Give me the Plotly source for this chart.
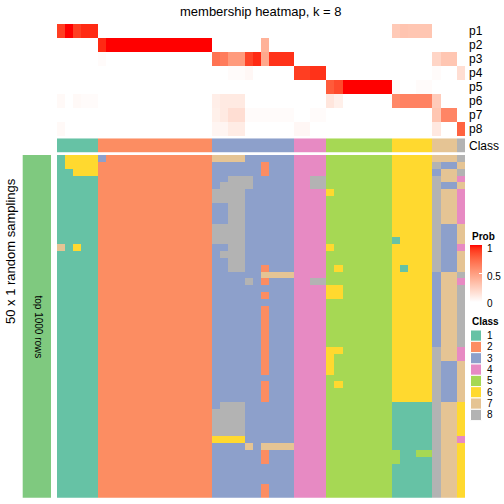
import plotly.graph_objects as go

W = H = 504
FONT = "Liberation Sans, Arial, sans-serif"

title_text = "membership heatmap, k = 8"
row_title = "50 x 1 random samplings"
block_label = "top 1000 rows"
prob_rows = ["p1", "p2", "p3", "p4", "p5", "p6", "p7", "p8"]
prob_ticks = [0, 0.5, 1]
prob_tick_labels = ["0", "0.5", "1"]
class_labels = ["1", "2", "3", "4", "5", "6", "7", "8"]
class_colors = ["#66C2A5", "#FC8D62", "#8DA0CB", "#E78AC3",
                "#A6D854", "#FFD92F", "#E5C494", "#B3B3B3"]

# consensus class of each of the 50 samples
col_class = [1, 1, 1, 1, 1,
             2, 2, 2, 2, 2, 2, 2, 2, 2, 2, 2, 2, 2, 2,
             3, 3, 3, 3, 3, 3, 3, 3, 3, 3,
             4, 4, 4, 4,
             5, 5, 5, 5, 5, 5, 5, 5,
             6, 6, 6, 6, 6,
             7, 7, 7,
             8]

# membership probabilities (columns = samples)
p1 = [0.90, 1.00, 0.90, 0.95, 0.95, 0, 0, 0, 0, 0, 0, 0, 0, 0, 0, 0, 0, 0, 0,
      0, 0, 0, 0, 0, 0, 0, 0, 0, 0, 0, 0, 0, 0, 0, 0, 0, 0, 0, 0, 0, 0,
      0.28, 0.31, 0.30, 0.30, 0.30, 0, 0, 0, 0]
p2 = [0, 0, 0, 0, 0, 0.95, 1, 1, 1, 1, 1, 1, 1, 1, 1, 1, 1, 1, 1,
      0, 0, 0, 0, 0, 0, 0.40, 0, 0, 0, 0, 0, 0, 0, 0, 0, 0, 0, 0, 0, 0, 0,
      0, 0, 0, 0, 0, 0, 0, 0, 0]
p3 = [0, 0, 0, 0, 0, 0.02, 0, 0, 0, 0, 0, 0, 0, 0, 0, 0, 0, 0, 0,
      0.70, 0.66, 0.52, 0.52, 0.88, 0.95, 0.45, 0.93, 0.93, 0.93,
      0, 0, 0, 0, 0, 0, 0, 0, 0, 0, 0, 0,
      0, 0, 0, 0, 0, 0.22, 0.30, 0.30, 0]
p4 = [0, 0, 0, 0, 0, 0, 0, 0, 0, 0, 0, 0, 0, 0, 0, 0, 0, 0, 0,
      0, 0, 0.02, 0.02, 0.04, 0, 0, 0, 0, 0,
      0.90, 0.90, 0.93, 0.93, 0, 0, 0, 0, 0, 0, 0, 0,
      0, 0, 0, 0, 0, 0.02, 0, 0, 0.17]
p5 = [0, 0, 0, 0, 0, 0, 0, 0, 0, 0, 0, 0, 0, 0, 0, 0, 0, 0, 0,
      0, 0, 0, 0, 0, 0, 0, 0, 0, 0,
      0, 0, 0, 0, 0.80, 0.86, 1, 1, 1, 1, 1, 1,
      0.03, 0, 0, 0.02, 0.02, 0, 0, 0, 0]
p6 = [0.03, 0, 0.03, 0.02, 0.02, 0, 0, 0, 0, 0, 0, 0, 0, 0, 0, 0, 0, 0, 0,
      0.09, 0.11, 0.11, 0.11, 0, 0, 0, 0, 0, 0,
      0, 0, 0, 0, 0.13, 0.08, 0, 0, 0, 0, 0, 0,
      0.60, 0.63, 0.63, 0.63, 0.63, 0.27, 0, 0, 0]
p7 = [0, 0, 0, 0, 0, 0, 0, 0, 0, 0, 0, 0, 0, 0, 0, 0, 0, 0, 0,
      0.08, 0.11, 0.17, 0.17, 0.02, 0.02, 0.02, 0.02, 0.02, 0.02,
      0, 0, 0.02, 0.02, 0, 0, 0, 0, 0, 0, 0, 0,
      0, 0, 0, 0, 0, 0.30, 0.62, 0.62, 0]
p8 = [0.03, 0, 0, 0, 0, 0, 0, 0, 0, 0, 0, 0, 0, 0, 0, 0, 0, 0, 0,
      0.05, 0.05, 0.10, 0.10, 0, 0, 0, 0, 0, 0,
      0.04, 0.04, 0, 0, 0, 0, 0, 0, 0, 0, 0, 0,
      0, 0, 0, 0, 0, 0.12, 0, 0, 0.77]

# class in each of the 50 random samplings that differs from the consensus:
# (first_row, last_row, first_col, last_col, class)
sampling_changes = [
    (0, 1, 1, 4, 6), (2, 2, 2, 4, 6), (0, 0, 5, 5, 3),
    (13, 13, 0, 0, 7), (13, 13, 2, 2, 6),
    (0, 0, 19, 22, 7), (1, 2, 25, 25, 2), (3, 3, 21, 23, 8), (4, 4, 20, 23, 8),
    (5, 6, 19, 22, 8), (7, 9, 21, 22, 8), (10, 12, 19, 22, 8), (13, 13, 21, 22, 8),
    (14, 14, 20, 22, 8), (15, 16, 21, 22, 8), (16, 16, 25, 25, 2),
    (17, 17, 25, 28, 7), (18, 18, 25, 25, 2), (18, 18, 23, 23, 8),
    (20, 20, 25, 25, 2), (22, 31, 25, 25, 2), (33, 35, 25, 25, 2),
    (36, 36, 20, 22, 8), (37, 40, 19, 22, 8), (41, 41, 19, 22, 6),
    (42, 42, 23, 23, 7), (42, 42, 25, 28, 7), (43, 44, 25, 25, 2), (48, 49, 25, 25, 2),
    (3, 4, 31, 32, 8), (18, 18, 31, 32, 8),
    (5, 5, 33, 33, 6), (13, 13, 33, 33, 6), (16, 16, 34, 34, 6), (19, 20, 33, 34, 6),
    (28, 28, 33, 34, 6), (29, 31, 33, 33, 6), (33, 33, 34, 34, 6),
    (12, 12, 41, 41, 1), (16, 16, 42, 42, 1), (36, 49, 41, 45, 1),
    (43, 44, 41, 41, 5), (43, 43, 44, 45, 5),
    (1, 1, 46, 46, 8), (2, 2, 46, 46, 3), (3, 16, 46, 46, 8), (17, 27, 46, 46, 3),
    (28, 49, 46, 46, 8),
    (1, 1, 47, 48, 3), (4, 4, 47, 48, 3), (10, 16, 47, 48, 3), (30, 35, 47, 48, 3),
    (1, 1, 49, 49, 7), (3, 3, 49, 49, 4), (4, 4, 49, 49, 7), (5, 9, 49, 49, 4),
    (10, 12, 49, 49, 7), (13, 13, 49, 49, 4), (14, 16, 49, 49, 7), (18, 18, 49, 49, 4),
    (28, 29, 49, 49, 4), (30, 35, 49, 49, 7), (36, 40, 49, 49, 6), (41, 41, 49, 49, 4),
    (42, 49, 49, 49, 6),
]
n_samplings = 50

# ---------------------------------------------------------------- build
ncol = len(col_class)
samp = [list(col_class) for _ in range(n_samplings)]
for r0, r1, c0, c1, k in sampling_changes:
    for r in range(r0, r1 + 1):
        for c in range(c0, c1 + 1):
            samp[r][c] = k

prob = [p1, p2, p3, p4, p5, p6, p7, p8]


def lab_to_hex(L, a, b):
    fy = (L + 16) / 116.0
    fx = fy + a / 500.0
    fz = fy - b / 200.0

    def finv(t):
        return t ** 3 if t ** 3 > 0.008856 else (t - 16 / 116.0) / 7.787
    X, Y, Z = 0.95047 * finv(fx), finv(fy), 1.08883 * finv(fz)
    rl = 3.2406 * X - 1.5372 * Y - 0.4986 * Z
    gl = -0.9689 * X + 1.8758 * Y + 0.0415 * Z
    bl = 0.0557 * X - 0.2040 * Y + 1.0570 * Z

    def gam(c):
        c = 12.92 * c if c <= 0.0031308 else 1.055 * c ** (1 / 2.4) - 0.055
        return int(round(min(max(c, 0), 1) * 255))
    return "#%02X%02X%02X" % (gam(rl), gam(gl), gam(bl))


# white -> red interpolated in LAB space
prob_scale = []
for i in range(21):
    t = i / 20
    prob_scale.append([t, lab_to_hex(100 - 46.76 * t, 80.09 * t, 67.20 * t)])

class_scale = []
for i, c in enumerate(class_colors):
    class_scale.append([i / 8, c])
    class_scale.append([(i + 1) / 8, c])


def px_x(x):
    return x / W


def px_y(y):
    return 1 - y / H


X0, X1 = 57, 465
CB_TOP, CB_BOT = 245, 302
fig = go.Figure()
xs = list(range(ncol))

fig.add_trace(go.Heatmap(
    z=prob, x=xs, y=prob_rows, xaxis="x", yaxis="y",
    colorscale=prob_scale, zmin=0, zmax=1, showscale=True,
    colorbar=dict(x=px_x(470), xanchor="left", xpad=0,
                  y=px_y(CB_TOP), yanchor="top", ypad=0,
                  len=(CB_BOT - CB_TOP) / H, lenmode="fraction", thickness=11.5,
                  outlinewidth=0, tickvals=prob_ticks,
                  showticklabels=False, ticks="inside",
                  ticklen=3, tickcolor="white"),
    hoverinfo="skip"))

fig.add_trace(go.Heatmap(
    z=[col_class], x=xs, y=["Class"], xaxis="x", yaxis="y2",
    colorscale=class_scale, zmin=0.5, zmax=8.5, showscale=False,
    hoverinfo="skip"))

fig.add_trace(go.Heatmap(
    z=samp, x=xs, y=list(range(n_samplings)), xaxis="x", yaxis="y3",
    colorscale=class_scale, zmin=0.5, zmax=8.5, showscale=False,
    hoverinfo="skip"))

yax_common = dict(showgrid=False, zeroline=False, showline=False, ticks="",
                  tickfont=dict(family=FONT, size=12, color="black"))
fig.update_layout(
    width=W, height=H, autosize=False,
    margin=dict(l=0, r=0, t=0, b=0),
    paper_bgcolor="white", plot_bgcolor="white",
    font=dict(family=FONT, color="black"),
    xaxis=dict(domain=[px_x(X0), px_x(X1)], range=[-0.5, ncol - 0.5],
               visible=False, fixedrange=True),
    yaxis=dict(domain=[px_y(136), px_y(24)], anchor="x", side="right",
               type="category", autorange="reversed",
               tickmode="array", tickvals=prob_rows, ticktext=prob_rows,
               ticklabelstandoff=3, **yax_common),
    yaxis2=dict(domain=[px_y(152.7), px_y(138.3)], anchor="x", side="right",
                type="category", tickmode="array", tickvals=["Class"],
                ticktext=["Class"], ticklabelstandoff=3, **yax_common),
    yaxis3=dict(domain=[px_y(497.7), px_y(155)], anchor="x",
                range=[n_samplings - 0.5, -0.5], visible=False),
    showlegend=False,
)

shapes = []
annotations = []

# left block annotation
shapes.append(dict(type="rect", xref="paper", yref="paper",
                   x0=px_x(22.7), x1=px_x(51), y0=px_y(497.7), y1=px_y(155),
                   fillcolor="#7FC97F", line=dict(width=0), layer="below"))
annotations.append(dict(text=block_label, xref="paper", yref="paper",
                        x=px_x(38), y=px_y(326.5), showarrow=False,
                        textangle=90, font=dict(family=FONT, size=10, color="black"),
                        xanchor="center", yanchor="middle"))
annotations.append(dict(text=row_title, xref="paper", yref="paper",
                        x=px_x(10.5), y=px_y(251.5), showarrow=False,
                        textangle=-90, font=dict(family=FONT, size=13, color="black"),
                        xanchor="center", yanchor="middle"))
annotations.append(dict(text=title_text, xref="paper", yref="paper",
                        x=px_x(261), y=px_y(11), showarrow=False,
                        font=dict(family=FONT, size=13, color="black"),
                        xanchor="center", yanchor="middle"))

# Prob legend
annotations.append(dict(text="<b>Prob</b>", xref="paper", yref="paper",
                        x=px_x(469.5), y=px_y(236.5), showarrow=False,
                        font=dict(family=FONT, size=10, color="black"),
                        xanchor="left", yanchor="middle"))
prob_label_y = {1: 248.5, 0.5: 276, 0: 303}
for v, lab in zip(prob_ticks, prob_tick_labels):
    annotations.append(dict(text=lab, xref="paper", yref="paper",
                            x=px_x(484.5), y=px_y(prob_label_y[v]),
                            showarrow=False,
                            font=dict(family=FONT, size=10, color="black"),
                            xanchor="left", yanchor="middle"))

# Class legend
annotations.append(dict(text="<b>Class</b>", xref="paper", yref="paper",
                        x=px_x(469.5), y=px_y(321), showarrow=False,
                        font=dict(family=FONT, size=10, color="black"),
                        xanchor="left", yanchor="middle"))
item_h = 11.33
for i, (lab, c) in enumerate(zip(class_labels, class_colors)):
    top = 330 + i * item_h
    shapes.append(dict(type="rect", xref="paper", yref="paper",
                       x0=px_x(470.5), x1=px_x(481.5),
                       y0=px_y(top + item_h), y1=px_y(top),
                       fillcolor=c, line=dict(color="white", width=1)))
    annotations.append(dict(text=lab, xref="paper", yref="paper",
                            x=px_x(484.5), y=px_y(top + item_h / 2),
                            showarrow=False,
                            font=dict(family=FONT, size=10, color="black"),
                            xanchor="left", yanchor="middle"))

fig.update_layout(shapes=shapes, annotations=annotations)
fig.write_html("out.html", config={"displayModeBar": False},
               post_script="document.body.style.margin='0px';")
